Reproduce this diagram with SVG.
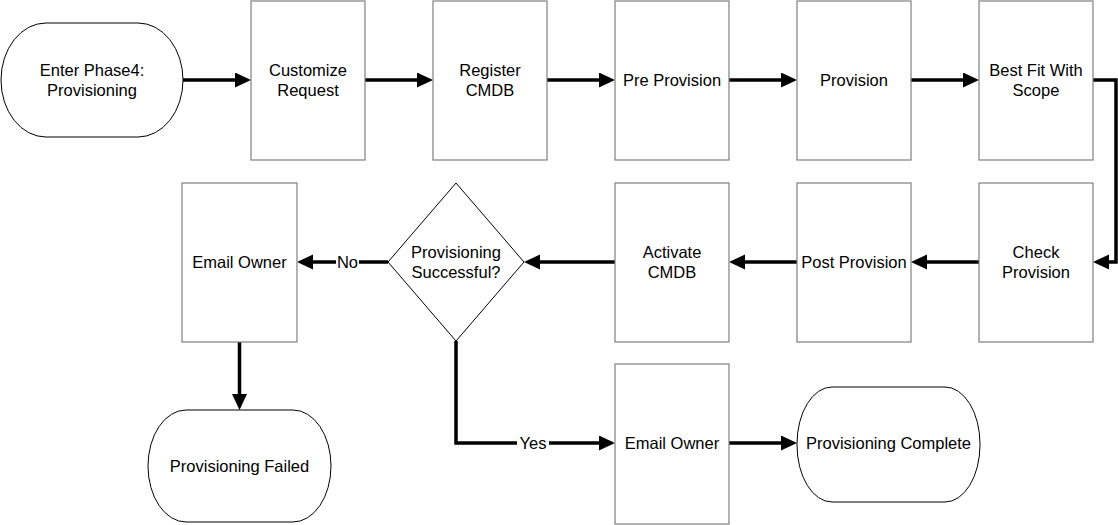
<svg xmlns="http://www.w3.org/2000/svg" width="1118" height="525" viewBox="0 0 1118 525">
<style>
.box{fill:#fff;stroke:#7f7f7f;stroke-width:1.2}
.term{fill:#fff;stroke:#000;stroke-width:1}
.t{font-family:"Liberation Sans",Arial,sans-serif;font-size:16.5px;fill:#000;text-anchor:middle}
.c{fill:none;stroke:#000;stroke-width:3.5}
.lbl{fill:#fff;stroke:none}
</style>
<defs>
<marker id="ah" markerUnits="userSpaceOnUse" markerWidth="17" markerHeight="16" refX="12" refY="7.5" orient="auto">
<path d="M0,0 L16,7.5 L0,15 z" fill="#000"/>
</marker>
</defs>
<rect width="1118" height="525" fill="#fff"/>
<g id="connectors">
<path class="c" d="M183,80 H247" marker-end="url(#ah)"/>
<path class="c" d="M365,80 H429" marker-end="url(#ah)"/>
<path class="c" d="M547,80 H611" marker-end="url(#ah)"/>
<path class="c" d="M729,80 H793" marker-end="url(#ah)"/>
<path class="c" d="M911,80 H975" marker-end="url(#ah)"/>
<path class="c" d="M1093,80 H1116 V262 H1097" marker-end="url(#ah)"/>
<path class="c" d="M979,262 H915" marker-end="url(#ah)"/>
<path class="c" d="M797,262 H733" marker-end="url(#ah)"/>
<path class="c" d="M615,262 H528" marker-end="url(#ah)"/>
<path class="c" d="M388,262 H301" marker-end="url(#ah)"/>
<path class="c" d="M239.5,342 V406" marker-end="url(#ah)"/>
<path class="c" d="M456,341 V443 H611" marker-end="url(#ah)"/>
<path class="c" d="M729,443 H793" marker-end="url(#ah)"/>
<rect class="lbl" x="336" y="254" width="23" height="17"/>
<text class="t" x="347.5" y="268">No</text>
<rect class="lbl" x="517" y="435" width="32" height="17"/>
<text class="t" x="533" y="449">Yes</text>
</g>
<g id="start">
<rect class="term" x="1" y="23" width="182" height="114" rx="45" ry="57"/>
<text class="t" x="92" y="76">Enter Phase4:</text>
<text class="t" x="92" y="96">Provisioning</text>
</g>
<g id="customize">
<rect class="box" x="251" y="1" width="114" height="159"/>
<text class="t" x="308" y="76">Customize</text>
<text class="t" x="308" y="96">Request</text>
</g>
<g id="register">
<rect class="box" x="433" y="1" width="114" height="159"/>
<text class="t" x="490" y="76">Register</text>
<text class="t" x="490" y="96">CMDB</text>
</g>
<g id="preprovision">
<rect class="box" x="615" y="1" width="114" height="159"/>
<text class="t" x="672" y="86">Pre Provision</text>
</g>
<g id="provision">
<rect class="box" x="797" y="1" width="114" height="159"/>
<text class="t" x="854" y="86">Provision</text>
</g>
<g id="bestfit">
<rect class="box" x="979" y="1" width="114" height="159"/>
<text class="t" x="1036" y="76">Best Fit With</text>
<text class="t" x="1036" y="96">Scope</text>
</g>
<g id="check">
<rect class="box" x="979" y="183" width="114" height="159"/>
<text class="t" x="1036" y="258">Check</text>
<text class="t" x="1036" y="278">Provision</text>
</g>
<g id="postprovision">
<rect class="box" x="797" y="183" width="114" height="159"/>
<text class="t" x="854" y="268">Post Provision</text>
</g>
<g id="activate">
<rect class="box" x="615" y="183" width="114" height="159"/>
<text class="t" x="672" y="258">Activate</text>
<text class="t" x="672" y="278">CMDB</text>
</g>
<g id="decision">
<polygon class="term" points="456,183 524,262 456,341 388,262"/>
<text class="t" x="456" y="258">Provisioning</text>
<text class="t" x="456" y="278">Successful?</text>
</g>
<g id="emailfail">
<rect class="box" x="182" y="183" width="115" height="159"/>
<text class="t" x="239.5" y="268">Email Owner</text>
</g>
<g id="failed">
<rect class="term" x="148" y="410" width="183" height="112" rx="38" ry="56"/>
<text class="t" x="239.5" y="472">Provisioning Failed</text>
</g>
<g id="emailok">
<rect class="box" x="615" y="364" width="114" height="160"/>
<text class="t" x="672" y="449">Email Owner</text>
</g>
<g id="complete">
<rect class="term" x="797" y="387" width="183" height="115" rx="35" ry="57"/>
<text class="t" x="888.5" y="449">Provisioning Complete</text>
</g>
</svg>
